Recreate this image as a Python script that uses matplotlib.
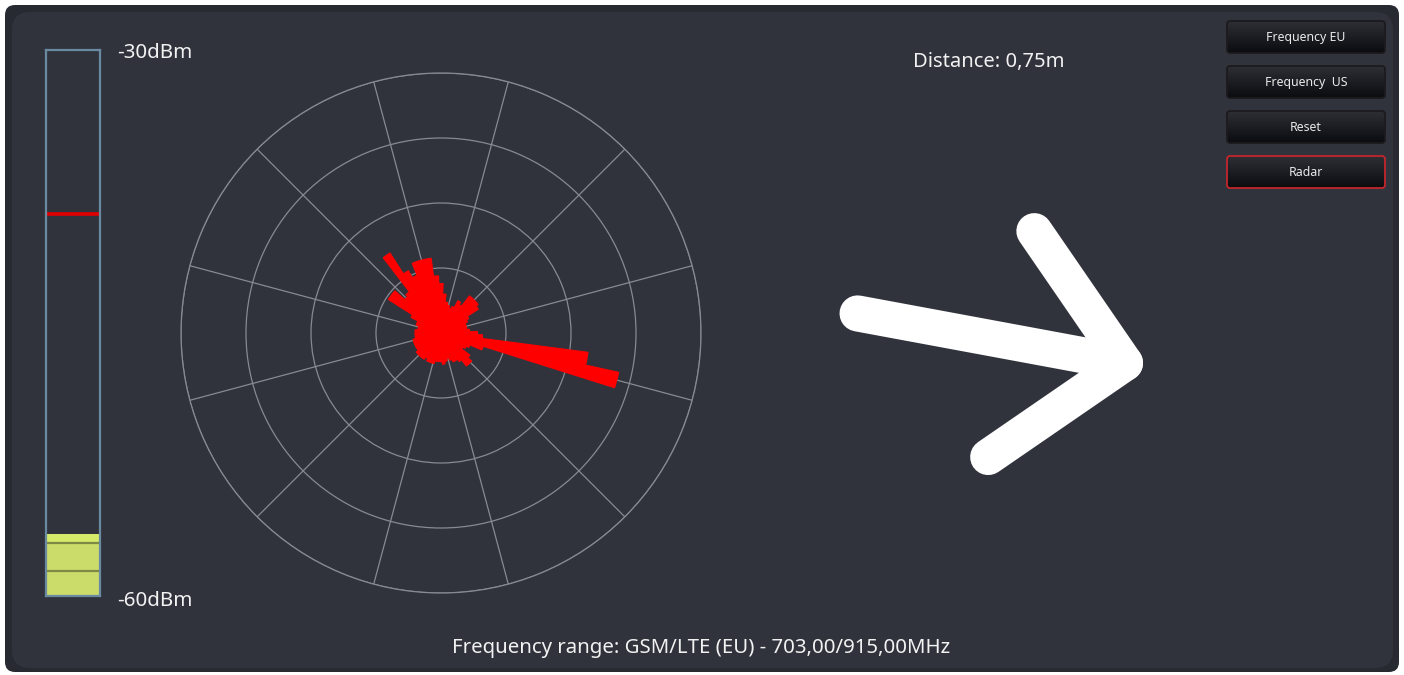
import numpy as np, matplotlib
matplotlib.use("Agg")
import matplotlib.pyplot as plt
from matplotlib.patches import FancyBboxPatch
from matplotlib.colors import LinearSegmentedColormap

plt.rcParams["font.family"] = ["Noto Sans", "DejaVu Sans"]

# radar histogram: bin centres every 5 deg (ccw from east), radius as fraction of outer ring
bin_deg = list(range(0, 360, 5))
bin_r = [0.14, 0.11, 0.10, 0.10, 0.10, 0.11, 0.12, 0.17, 0.18, 0.18,   # 0-45
         0.18, 0.13, 0.14, 0.11, 0.10, 0.11, 0.12, 0.15, 0.19, 0.22,   # 50-95
         0.29, 0.29, 0.29, 0.24, 0.27, 0.365, 0.20, 0.19, 0.24, 0.24,  # 100-145
         0.13, 0.10, 0.10, 0.09, 0.09, 0.10, 0.10, 0.10, 0.10, 0.11,   # 150-195
         0.11, 0.11, 0.11, 0.11, 0.12, 0.12, 0.12, 0.12, 0.11, 0.12,   # 200-245
         0.12, 0.12, 0.11, 0.11, 0.11, 0.12, 0.11, 0.10, 0.11, 0.12,   # 250-295
         0.12, 0.13, 0.16, 0.16, 0.14, 0.10, 0.11, 0.12, 0.17, 0.70,   # 300-345
         0.57, 0.16]                                                    # 350-355
rings = [0.25, 0.5, 0.75, 1.0]
spokes = list(range(15, 360, 30))

# level meter (dBm)
meter_lo, meter_hi = -60, -30
peak_dbm = -39.0
fill_edges = [-60.0, -58.6, -57.1, -56.6]
fill_cols = ["#cbdc6a", "#cbdc6a", "#d5ea68"]

arrow_deg = -10.5
buttons = ["Frequency EU", "Frequency  US", "Reset", "Radar"]
active = "Radar"
distance_txt = "Distance: 0,75m"
freq_txt = "Frequency range: GSM/LTE (EU) - 703,00/915,00MHz"

W, H = 1404, 675
fig = plt.figure(figsize=(W/100, H/100), dpi=100, facecolor="white")
bg = fig.add_axes([0, 0, 1, 1]); bg.axis("off")

# window frame + rounded panel
bg.add_patch(FancyBboxPatch((5, 5), W-10, H-8, boxstyle="round,pad=0,rounding_size=10", fc="#282a31", ec="none"))
bg.add_patch(FancyBboxPatch((12, 12), W-23, H-19, boxstyle="round,pad=0,rounding_size=18", fc="#30333c", ec="none"))

txt = "#f2f2f2"
bg.text(117, 53, "-30dBm", fontsize=14.8, color=txt, va="center")
bg.text(117, 601, "-60dBm", fontsize=14.8, color=txt, va="center")
bg.text(989, 62, distance_txt, fontsize=14.5, color=txt, ha="center", va="center")
bg.text(701, 648, freq_txt, fontsize=14.7, color=txt, ha="center", va="center")

# buttons with vertical gradient
grad_cm = LinearSegmentedColormap.from_list("btn", ["#2e2f35", "#0b0c10"])
grad = np.linspace(0, 1, 64).reshape(-1, 1)
for i, b in enumerate(buttons):
    x0, y0, w, h = 1227, 21 + 45*i, 158, 32
    ec = "#c4262b" if b == active else "#1c1a1d"
    p = FancyBboxPatch((x0, y0), w, h, boxstyle="round,pad=0,rounding_size=3", fc="none", ec=ec, lw=1.3, zorder=4)
    bg.add_patch(p)
    im = bg.imshow(grad, extent=(x0, x0+w, y0+h, y0), cmap=grad_cm, aspect="auto", zorder=3)
    im.set_clip_path(p)
    bg.text(x0+w/2, y0+h/2+0.5, b, fontsize=8.9, color="#e8e8e8", ha="center", va="center", zorder=5)

# direction arrow
tip = np.array([1125.0, 363.0])
a = np.deg2rad(arrow_deg)
d = np.array([np.cos(a), -np.sin(a)])
tail = tip - 272*d
def rot(v, t):
    t = np.deg2rad(t); return np.array([v[0]*np.cos(t)-v[1]*np.sin(t), v[0]*np.sin(t)+v[1]*np.cos(t)])
arm1 = tip + 160*rot(-d, 45); arm2 = tip + 166*rot(-d, -45)
kw = dict(color="white", lw=26, solid_capstyle="round", solid_joinstyle="round", zorder=3)
bg.plot([tail[0], tip[0]], [tail[1], tip[1]], **kw)
bg.plot([arm1[0], tip[0], arm2[0]], [arm1[1], tip[1], arm2[1]], **kw)
bg.set_xlim(0, W); bg.set_ylim(H, 0)

# polar radar
pax = fig.add_axes([181/W, (H-593)/H, 520/W, 520/H], projection="polar")
pax.set_facecolor("none")
pax.bar(np.deg2rad(bin_deg), bin_r, width=np.deg2rad(5), color="#ff0000", edgecolor="#ff0000", lw=0.8, zorder=3)
pax.set_ylim(0, 1)
pax.set_rgrids(rings, labels=[])
pax.set_thetagrids(spokes, labels=[])
pax.yaxis.set_tick_params(which="both", length=0, width=0)
pax.xaxis.set_tick_params(which="both", length=0, width=0)
pax.grid(color="#878a91", lw=0.9, solid_capstyle="butt")
sp = pax.spines["polar"]
sp.set_color("#878a91"); sp.set_linewidth(0.9); sp.set_capstyle("butt")
pax.set_axisbelow(True)

# level meter
mx = fig.add_axes([46/W, (H-596)/H, 54/W, 546/H])
mx.set_facecolor("none")
for lo, hi, c in zip(fill_edges[:-1], fill_edges[1:], fill_cols):
    mx.bar(0.5, hi-lo, bottom=lo, width=1, color=c, lw=0)
mx.hlines(fill_edges[1:-1], 0, 1, color="#7d8945", lw=1.6)
mx.axhline(peak_dbm, color="#e00000", lw=2.6)
mx.set_xlim(0, 1); mx.set_ylim(meter_lo, meter_hi)
mx.set_xticks([]); mx.set_yticks([])
for s in mx.spines.values():
    s.set_color("#6a8aa2"); s.set_linewidth(1.6)

fig.savefig("out.png", dpi=100, facecolor="white")
print("ok")
